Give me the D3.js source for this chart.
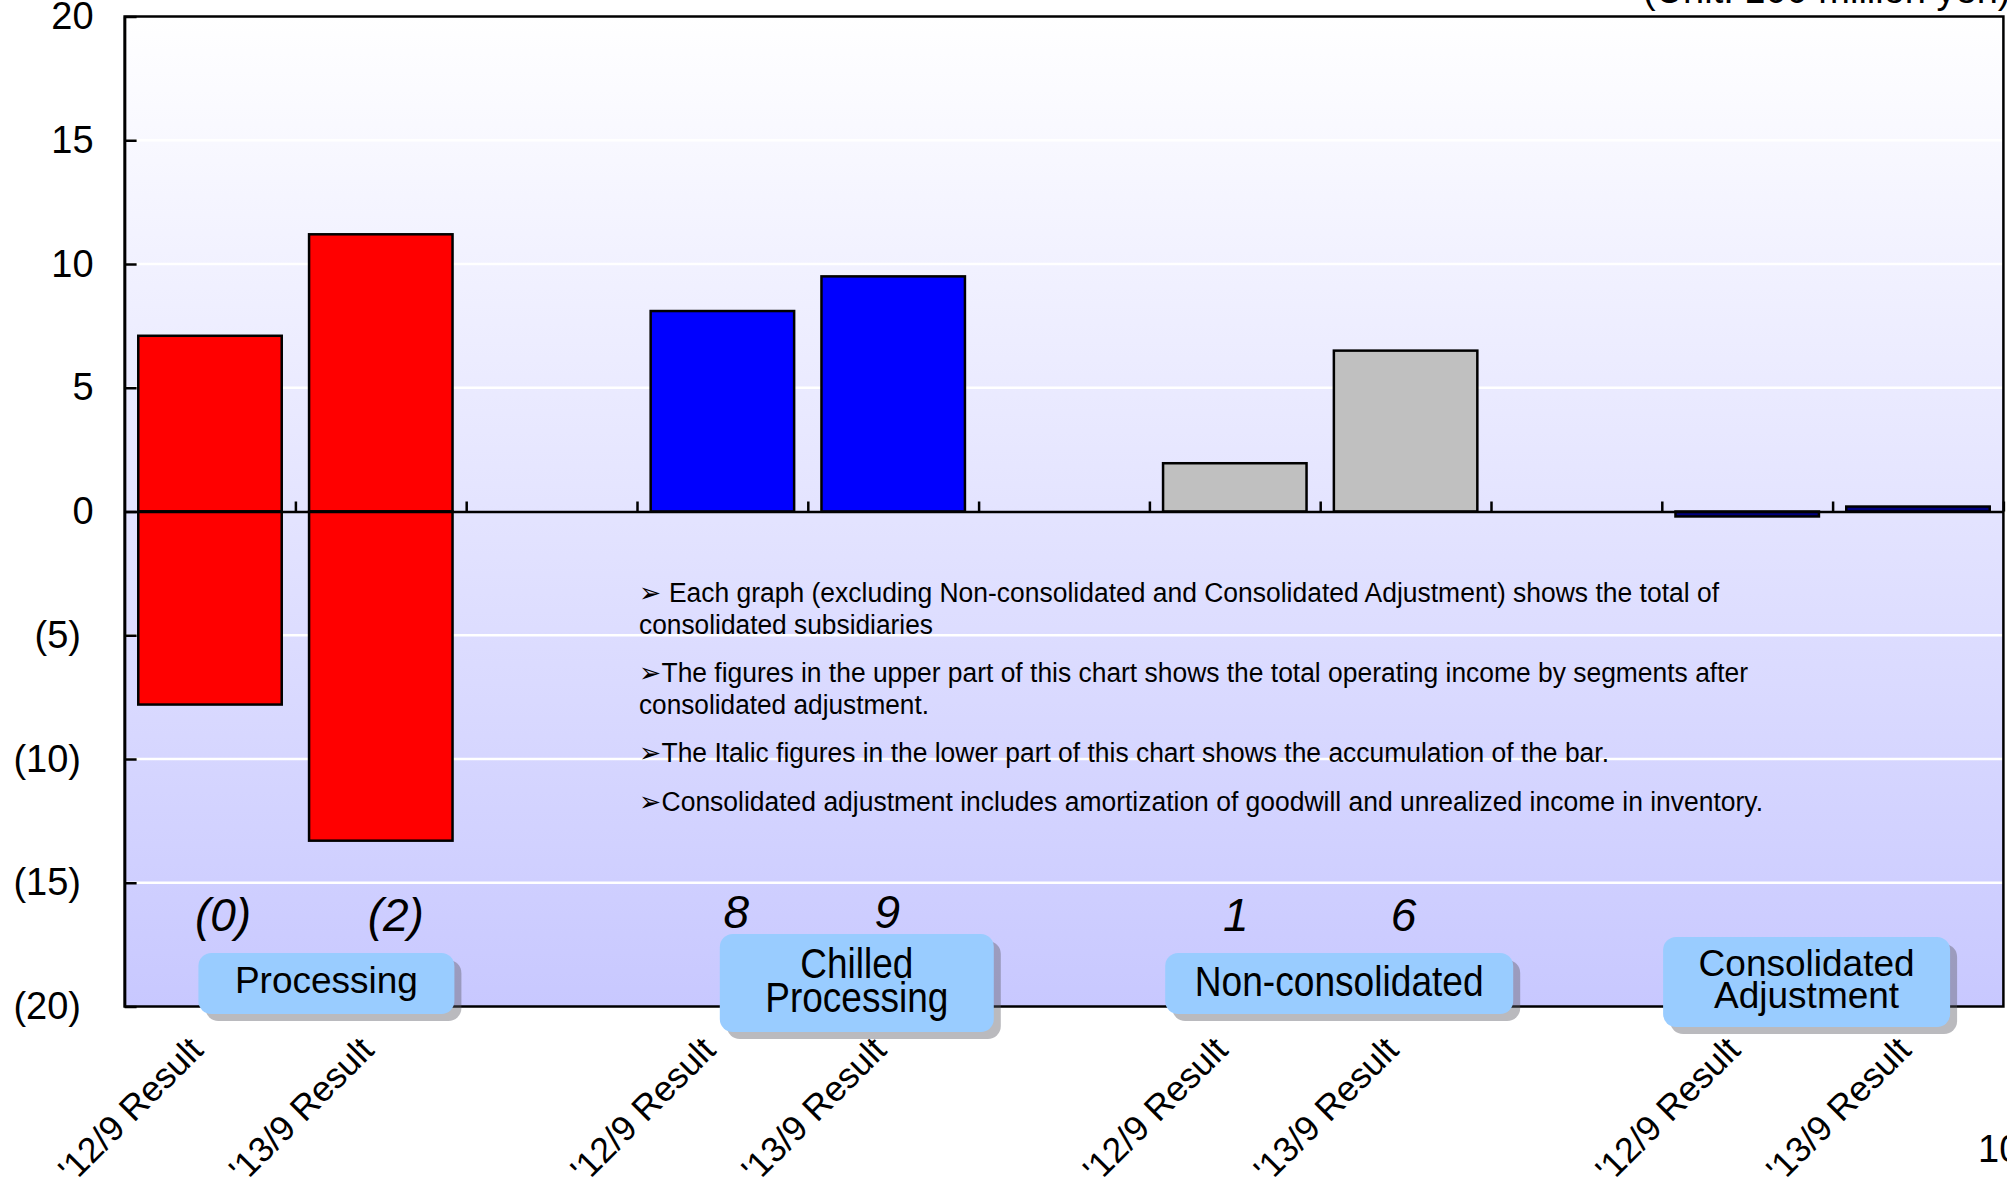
<!DOCTYPE html>
<html>
<head>
<meta charset="utf-8">
<script src="https://cdn.jsdelivr.net/npm/d3@7"></script>
<style>
  html, body { margin: 0; padding: 0; background: #ffffff; overflow: hidden; }
  svg { display: block; font-family: "Liberation Sans", Arial, sans-serif; }
</style>
</head>
<body>
<svg id="chart" width="2007" height="1182"></svg>
<script>
// ---- Operating income by segment (unit: 100 million yen) ----
const segments = ["Processing", "Chilled Processing", "Non-consolidated", "Consolidated Adjustment"];
const periods = ["'12/9 Result", "'13/9 Result"];
// upper (profit) and lower (loss) parts of each stacked bar
const upper12 = [7.1, 8.1, 1.95, 0];
const upper13 = [11.2, 9.5, 6.5, 0.2];
const lower12 = [-7.8, 0, 0, -0.2];
const lower13 = [-13.3, 0, 0, 0];
// whether the accumulated total is printed under the group
const totalShown = [true, true, true, false];
const yTicks = [20, 15, 10, 5, 0, -5, -10, -15, -20];
const noteLines = [
  "\u27A2 Each graph (excluding Non-consolidated and Consolidated Adjustment) shows the total of",
  "consolidated subsidiaries",
  "\u27A2The figures in the upper part of this chart shows the total operating income by segments after",
  "consolidated adjustment.",
  "\u27A2The Italic figures in the lower part of this chart shows the accumulation of the bar.",
  "\u27A2Consolidated adjustment includes amortization of goodwill and unrealized income in inventory."
];
const unitLabel = "(Unit: 100 million yen)";
const pageNumber = "10";

// ---- styling / layout ----
const segColors = ["#ff0000", "#0000ff", "#c0c0c0", "#000080"];
const plot = { left: 124.6, right: 2003.4, top: 16.5, bottom: 1006.5 };
const nSlots = segments.length * 3 - 1;
// narrow-set text is drawn with a regular face compressed to these widths
const noteWidths = [1080, 294, 1109, 290, 970, 1124];
const noteBase = [602, 634, 682, 714, 762, 811];
const totalNudge = [13, 15, 14, -6, 1, -2];

const svg = d3.select("#chart");

// bar records
const bars = [];
segments.forEach((seg, s) => {
  const ups = [upper12[s], upper13[s]];
  const lows = [lower12[s], lower13[s]];
  periods.forEach((per, p) => {
    bars.push({ seg: s, period: p, slot: s * 3 + p, up: ups[p], low: lows[p], label: per });
  });
});

const x = d3.scaleBand()
  .domain(d3.range(nSlots))
  .range([plot.left, plot.right])
  .paddingInner(0.16)
  .paddingOuter(0.08);
const xb = d3.scaleLinear().domain([0, nSlots]).range([plot.left, plot.right]);
const y = d3.scaleLinear().domain([-20, 20]).range([plot.bottom, plot.top]);

// background gradient
const defs = svg.append("defs");
const grad = defs.append("linearGradient").attr("id", "bg")
  .attr("x1", 0).attr("y1", 0).attr("x2", 0).attr("y2", 1);
grad.append("stop").attr("offset", "0%").attr("stop-color", "#ffffff");
grad.append("stop").attr("offset", "100%").attr("stop-color", "#c8c8ff");

svg.append("rect")
  .attr("x", plot.left).attr("y", plot.top)
  .attr("width", plot.right - plot.left).attr("height", plot.bottom - plot.top)
  .attr("fill", "url(#bg)");

// white gridlines
svg.append("g").selectAll("line")
  .data(yTicks.filter(v => v !== 0 && Math.abs(v) !== 20))
  .join("line")
  .attr("x1", plot.left).attr("x2", plot.right)
  .attr("y1", d => y(d)).attr("y2", d => y(d))
  .attr("stroke", "#ffffff").attr("stroke-width", 2.5);

// left value axis
const fmt = v => v < 0 ? `(${Math.abs(v)})` : `${v}`;
const yAxis = svg.append("g")
  .attr("transform", `translate(${plot.left},0)`)
  .call(d3.axisLeft(y).tickValues(yTicks).tickSize(-12).tickSizeOuter(0).tickPadding(43.6).tickFormat(fmt));
yAxis.select(".domain").attr("stroke", "#000").attr("stroke-width", 2.5);
yAxis.selectAll(".tick line").attr("stroke", "#000").attr("stroke-width", 2.5);
yAxis.selectAll(".tick text")
  .attr("font-size", 38)
  .attr("font-family", "'Liberation Sans', Arial, sans-serif")
  .attr("fill", "#000")
  .attr("dx", d => d >= 0 ? 12.6 : 0);

// bars
const barG = svg.append("g");
bars.forEach(b => {
  const parts = [];
  if (b.up !== 0) parts.push([0, b.up]);
  if (b.low !== 0) parts.push([b.low, 0]);
  parts.forEach(([a, c]) => {
    barG.append("rect")
      .attr("x", x(b.slot))
      .attr("width", x.bandwidth())
      .attr("y", y(c))
      .attr("height", y(a) - y(c))
      .attr("fill", segColors[b.seg])
      .attr("stroke", "#000")
      .attr("stroke-width", 2.5);
  });
});

// zero line (category axis) with upward ticks at category boundaries
const xAxis = svg.append("g")
  .attr("transform", `translate(0,${y(0)})`)
  .call(d3.axisTop(xb).tickValues(d3.range(1, nSlots + 1)).tickSize(10).tickSizeOuter(0).tickFormat(""));
xAxis.select(".domain").attr("stroke", "#000").attr("stroke-width", 2.5);
xAxis.selectAll(".tick line").attr("stroke", "#000").attr("stroke-width", 2.5);

// plot frame
svg.append("rect")
  .attr("x", plot.left).attr("y", plot.top)
  .attr("width", plot.right - plot.left).attr("height", plot.bottom - plot.top)
  .attr("fill", "none").attr("stroke", "#000").attr("stroke-width", 2.5);

// accumulated totals (truncated to whole units)
const totalFmt = v => {
  const t = Math.trunc(v);
  return v < 0 ? `(${Math.abs(t)})` : `${t}`;
};
svg.append("g").selectAll("text")
  .data(bars.filter(b => totalShown[b.seg]))
  .join("text")
  .attr("x", (d, i) => x(d.slot) + x.bandwidth() / 2 + totalNudge[i])
  .attr("y", d => d.seg === 1 ? 928 : 931)
  .attr("text-anchor", "middle")
  .attr("font-size", 46)
  .attr("font-style", "italic")
  .attr("fill", "#000")
  .text(d => totalFmt(d.up + d.low));

// category labels (rotated)
svg.append("g").selectAll("text")
  .data(bars)
  .join("text")
  .attr("transform", d => `translate(${x(d.slot) + x.bandwidth() / 2 - 5},1052) rotate(-45)`)
  .attr("text-anchor", "end")
  .attr("font-size", 35.5)
  .attr("fill", "#000")
  .text(d => d.label);

// segment name boxes
const boxLayout = [
  { shift: 31, w: 256, top: 953, h: 61, base: [40], fs: 37, fit: null },
  { shift: 49, w: 274, top: 934, h: 98, base: [44, 78], fs: 43, fit: [113, 183] },
  { shift: 19, w: 348, top: 953, h: 61, base: [43], fs: 43, fit: [289] },
  { shift: -26, w: 287, top: 937, h: 90, base: [39, 71], fs: 37, fit: null }
];
const boxG = svg.append("g");
segments.forEach((seg, s) => {
  const L = boxLayout[s];
  const cx = (x(s * 3) + x(s * 3 + 1) + x.bandwidth()) / 2 + L.shift;
  const bx = cx - L.w / 2;
  boxG.append("rect")
    .attr("x", bx + 7).attr("y", L.top + 7).attr("width", L.w).attr("height", L.h)
    .attr("rx", 13).attr("fill", "rgba(90,90,100,0.42)");
  boxG.append("rect")
    .attr("x", bx).attr("y", L.top).attr("width", L.w).attr("height", L.h)
    .attr("rx", 13).attr("fill", "#99ccff");
  seg.split(" ").forEach((word, i) => {
    const t = boxG.append("text")
      .attr("x", cx).attr("y", L.top + L.base[i])
      .attr("text-anchor", "middle")
      .attr("font-size", L.fs)
      .attr("fill", "#000")
      .text(word);
    if (L.fit) t.attr("textLength", L.fit[i]).attr("lengthAdjust", "spacingAndGlyphs");
  });
});

// explanatory notes
svg.append("g").selectAll("text")
  .data(noteLines)
  .join("text")
  .attr("x", 639)
  .attr("y", (d, i) => noteBase[i])
  .attr("font-size", 27)
  .attr("fill", "#000")
  .attr("textLength", (d, i) => noteWidths[i])
  .attr("lengthAdjust", "spacingAndGlyphs")
  .text(d => d);

// unit caption and page number
svg.append("text").attr("x", 1643).attr("y", 3).attr("font-size", 38).attr("fill", "#000").text(unitLabel);
svg.append("text").attr("x", 1978).attr("y", 1162).attr("font-size", 38).attr("fill", "#000").text(pageNumber);
</script>
</body>
</html>
